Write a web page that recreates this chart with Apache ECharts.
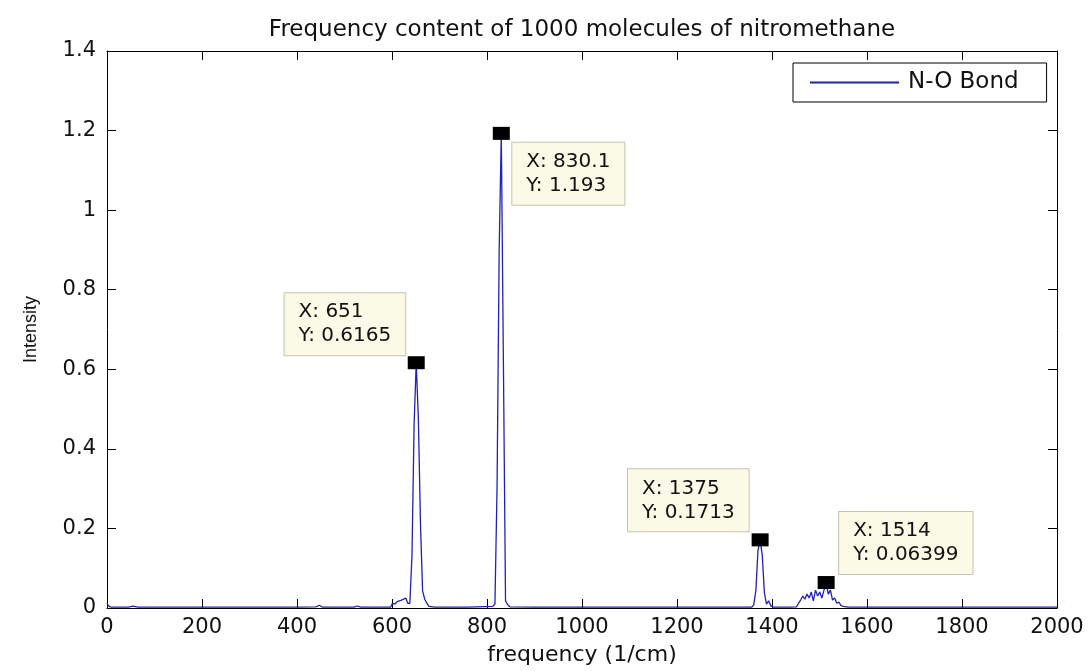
<!DOCTYPE html>
<html>
<head>
<meta charset="utf-8">
<title>Frequency content of 1000 molecules of nitromethane</title>
<script src="https://cdn.jsdelivr.net/npm/echarts@6/dist/echarts.min.js"></script>
<style>
  html, body { margin: 0; padding: 0; background: #ffffff; }
  #chart { width: 1088px; height: 671px; }
</style>
</head>
<body>
<div id="chart"></div>
<script>
// N-O bond spectrum, split into frequency bands (1/cm) with their intensities.
const lowFreq      = [0, 3, 8, 30, 45, 55, 65, 120, 200, 300, 400, 440, 447, 454, 520, 527, 534, 590, 597, 601, 606, 611, 615, 620, 624, 629, 633.1];
const lowIntensity = [0.012, 0.006, 0.002, 0.002, 0.002, 0.005, 0.002, 0.002, 0.002, 0.002, 0.002, 0.003, 0.007, 0.002, 0.002, 0.005, 0.002, 0.002, 0.002, 0.012, 0.010, 0.016, 0.014, 0.020, 0.022, 0.025, 0.012];

const band651Freq      = [637.6, 642.1, 646.5, 651, 655.5, 660, 664.4, 668.9, 673.4, 677.8, 690];
const band651Intensity = [0.012, 0.133, 0.46, 0.6165, 0.476, 0.21, 0.043, 0.022, 0.012, 0.004, 0.002];

const band830Freq      = [760, 812.2, 816.7, 821.2, 825.6, 830.1, 834.6, 839.0, 843.5, 848, 900];
const band830Intensity = [0.002, 0.004, 0.010, 0.306, 0.897, 1.193, 0.609, 0.018, 0.008, 0.003, 0.002];

const band1375Freq      = [1000, 1200, 1357.1, 1361.6, 1366.1, 1370.5, 1375, 1379.5, 1384, 1388.4, 1392.9, 1397.4, 1402, 1440];
const band1375Intensity = [0.002, 0.002, 0.002, 0.008, 0.045, 0.145, 0.1713, 0.133, 0.038, 0.010, 0.018, 0.006, 0.002, 0.002];

const band1514Freq      = [1451.4, 1455.9, 1460.3, 1464.8, 1469.3, 1473.7, 1478.2, 1482.7, 1487.1, 1491.6, 1496, 1500.5, 1505, 1509.5, 1514, 1518.5, 1523, 1527.4, 1532, 1536.3, 1540.8, 1545.3, 1550, 1560];
const band1514Intensity = [0.003, 0.012, 0.020, 0.030, 0.022, 0.035, 0.025, 0.040, 0.018, 0.045, 0.030, 0.040, 0.025, 0.045, 0.06399, 0.035, 0.045, 0.020, 0.025, 0.012, 0.015, 0.006, 0.004, 0.002];

const highFreq      = [1600, 1800, 2000];
const highIntensity = [0.002, 0.002, 0.002];

// Annotated peaks (data tips)
const tipFreq      = [651, 830.1, 1375, 1514];
const tipIntensity = [0.6165, 1.193, 0.1713, 0.06399];

// Axis ticks
const xTicks = [0, 200, 400, 600, 800, 1000, 1200, 1400, 1600, 1800, 2000];
const yTickLabels = ['0', '0.2', '0.4', '0.6', '0.8', '1', '1.2', '1.4'];

const seriesName = 'N-O Bond';

// Assemble the [frequency, intensity] pairs for the line series
const bands = [
  [lowFreq, lowIntensity],
  [band651Freq, band651Intensity],
  [band830Freq, band830Intensity],
  [band1375Freq, band1375Intensity],
  [band1514Freq, band1514Intensity],
  [highFreq, highIntensity]
];
const points = [];
bands.forEach(([f, v]) => f.forEach((x, i) => points.push([x, v[i]])));

// Where each data tip box sits relative to its square marker
const tipPlacement = [
  { position: [-2.5, -1], align: 'right', verticalAlign: 'bottom' },
  { position: [19.5, 16], align: 'left', verticalAlign: 'top' },
  { position: [-3, -2], align: 'right', verticalAlign: 'bottom' },
  { position: [21.5, -2], align: 'left', verticalAlign: 'bottom' }
];

const FONT = 'DejaVu Sans';
const LINE_COLOR = '#2121b8';

const tipData = tipFreq.map((x, i) => ({
  coord: [x, tipIntensity[i]],
  label: Object.assign({
    show: true,
    formatter: '{t|X: ' + x + '}\n{t|Y: ' + tipIntensity[i] + '}',
    backgroundColor: '#fafae6',
    borderColor: '#c4c4b4',
    borderWidth: 1,
    padding: [7, 14, 7, 14],
    rich: {
      t: { align: 'left', fontFamily: FONT, fontSize: 20, lineHeight: 24, color: '#111111' }
    }
  }, tipPlacement[i])
}));

const xMin = xTicks[0], xMax = xTicks[xTicks.length - 1], xStep = xTicks[1] - xTicks[0];
const yMin = 0, yMax = 1.4, yStep = 0.2;

const axisLine = { show: true, onZero: false, lineStyle: { color: '#000000', width: 1 } };
const tickInside = { show: true, inside: true, length: 9, lineStyle: { color: '#000000', width: 1 } };

const chart = echarts.init(document.getElementById('chart'), null, { renderer: 'canvas' });
chart.setOption({
  animation: false,
  backgroundColor: '#ffffff',
  title: {
    text: 'Frequency content of 1000 molecules of nitromethane',
    left: 577,
    top: 14,
    textAlign: 'center',
    textStyle: { fontFamily: FONT, fontSize: 23, fontWeight: 'normal', color: '#111111' }
  },
  legend: {
    show: true,
    left: 793,
    top: 63,
    orient: 'horizontal',
    backgroundColor: '#ffffff',
    borderColor: '#000000',
    borderWidth: 1,
    borderRadius: 0,
    padding: [8, 28, 8, 17],
    itemWidth: 89,
    itemHeight: 2,
    icon: 'rect',
    selectedMode: false,
    textStyle: { fontFamily: FONT, fontSize: 23, color: '#111111', padding: [0, 0, 0, 4] },
    data: [seriesName]
  },
  grid: { left: 107, right: 31, top: 51, bottom: 61, containLabel: false },
  xAxis: [
    {
      type: 'value', min: xMin, max: xMax, interval: xStep, position: 'bottom',
      name: 'frequency (1/cm)', nameLocation: 'middle', nameGap: 36,
      nameTextStyle: { fontFamily: FONT, fontSize: 22, color: '#111111' },
      axisLine: axisLine, axisTick: tickInside,
      axisLabel: {
        show: true, margin: 9, fontFamily: FONT, fontSize: 21, color: '#111111',
        formatter: (v) => String(xTicks[Math.round((v - xMin) / xStep)])
      },
      splitLine: { show: false }
    },
    {
      type: 'value', min: xMin, max: xMax, interval: xStep, position: 'top',
      axisLine: axisLine, axisTick: tickInside,
      axisLabel: { show: false }, splitLine: { show: false }
    }
  ],
  yAxis: [
    {
      type: 'value', min: yMin, max: yMax, interval: yStep, position: 'left',
      name: 'Intensity', nameLocation: 'middle', nameGap: 67,
      nameTextStyle: { fontFamily: 'Liberation Sans', fontSize: 18, color: '#111111' },
      axisLine: axisLine, axisTick: tickInside,
      axisLabel: {
        show: true, margin: 11, fontFamily: FONT, fontSize: 21, color: '#111111',
        formatter: (v) => yTickLabels[Math.round((v - yMin) / yStep)]
      },
      splitLine: { show: false }
    },
    {
      type: 'value', min: yMin, max: yMax, interval: yStep, position: 'right',
      axisLine: axisLine, axisTick: tickInside,
      axisLabel: { show: false }, splitLine: { show: false }
    }
  ],
  series: [
    {
      name: seriesName,
      type: 'line',
      xAxisIndex: 0,
      yAxisIndex: 0,
      data: points,
      showSymbol: false,
      symbol: 'none',
      smooth: false,
      color: LINE_COLOR,
      lineStyle: { color: LINE_COLOR, width: 1.3 },
      emphasis: { disabled: true },
      z: 3,
      markPoint: {
        symbol: 'rect',
        symbolSize: [17, 13],
        itemStyle: { color: '#000000' },
        emphasis: { disabled: true },
        silent: true,
        z: 5,
        data: tipData
      }
    }
  ]
});
</script>
</body>
</html>
